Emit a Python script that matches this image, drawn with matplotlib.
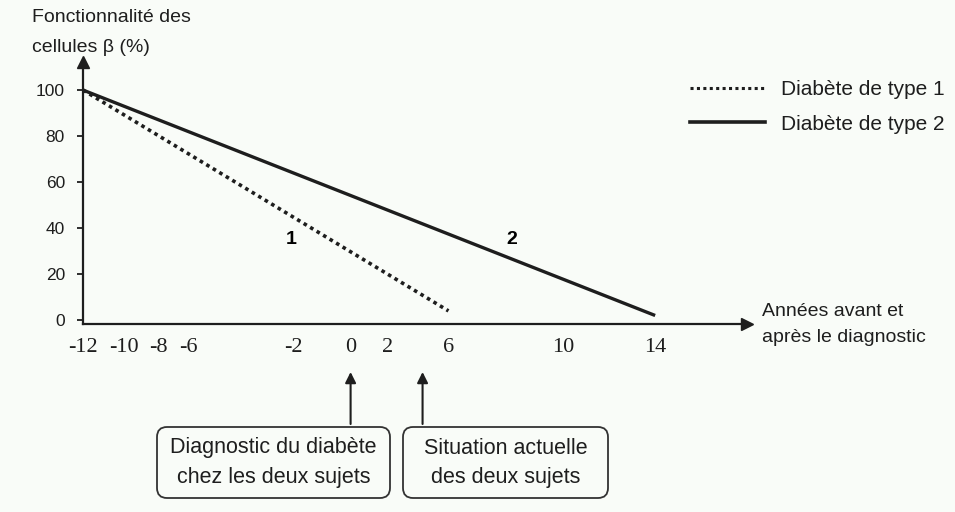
import numpy as np
import matplotlib.pyplot as plt
from matplotlib.patches import FancyBboxPatch
from matplotlib.lines import Line2D

# years shown under the x axis, and where each label sits on the drawing (px)
years = [-12, -10, -8, -6, -2, 0, 2, 6, 10, 14]
year_px = [82, 123, 157, 188, 293, 350, 387, 448, 563, 655]

# beta-cell function (%) - straight decline from -12 years
type1_x = [-12, 6]
type1_y = [100, 4]
type2_x = [-12, 14]
type2_y = [100, 2]
y_ticks = [0, 20, 40, 60, 80, 100]

diag_year = 0      # diagnostic
now_year = 4.3     # situation actuelle

W, H = 955, 512


def fx(px):
    return px / W


def fy(py):
    return 1 - py / H


def fwd(x):
    # hand drawn axis: piecewise linear between the labelled years
    x = np.asarray(x, dtype=float)
    out = np.interp(x, years, year_px)
    s0 = (year_px[1] - year_px[0]) / (years[1] - years[0])
    s1 = (year_px[-1] - year_px[-2]) / (years[-1] - years[-2])
    out = np.where(x < years[0], year_px[0] + (x - years[0]) * s0, out)
    out = np.where(x > years[-1], year_px[-1] + (x - years[-1]) * s1, out)
    return out


def inv(p):
    p = np.asarray(p, dtype=float)
    out = np.interp(p, year_px, years)
    s0 = (years[1] - years[0]) / (year_px[1] - year_px[0])
    s1 = (years[-1] - years[-2]) / (year_px[-1] - year_px[-2])
    out = np.where(p < year_px[0], years[0] + (p - year_px[0]) * s0, out)
    out = np.where(p > year_px[-1], years[-1] + (p - year_px[-1]) * s1, out)
    return out


bg = '#f9fcf8'
ink = '#1e1e1e'
plt.rcParams['font.family'] = ['Liberation Sans', 'DejaVu Sans']

fig = plt.figure(figsize=(9.55, 5.12), dpi=100, facecolor=bg)
ax = fig.add_axes([fx(83), fy(324), fx(747) - fx(83), fy(62) - fy(324)])
ax.set_facecolor(bg)
ax.set_xscale('function', functions=(fwd, inv))
ax.set_xlim(-12, float(inv(747)))
ax.set_ylim(-1.7, 112.2)

# the two curves
ax.plot(type1_x, type1_y, color=ink, lw=2.6, linestyle=(0, (1, 1.1)),
        clip_on=False, label='Diabète de type 1')
ax.plot(type2_x, type2_y, color=ink, lw=2.4, solid_capstyle='butt',
        clip_on=False, label='Diabète de type 2')

# axes with arrows
for side in ['top', 'right']:
    ax.spines[side].set_visible(False)
for side in ['left', 'bottom']:
    ax.spines[side].set_linewidth(1.6)
    ax.spines[side].set_color(ink)
ax.plot(1, 0, '>', color=ink, ms=9, transform=ax.transAxes, clip_on=False)
ax.plot(0, 1, '^', color=ink, ms=9, transform=ax.transAxes, clip_on=False)

ax.set_yticks(y_ticks)
ax.set_yticklabels([str(v) for v in y_ticks])
ax.tick_params(axis='y', direction='out', length=4, width=1.3, pad=9,
               labelsize=12.5, colors=ink)
ax.set_xticks(years)
ax.set_xticklabels([str(v) for v in years], family='Liberation Serif',
                   fontsize=16)
ax.tick_params(axis='x', length=0, pad=10, colors=ink)
ax.minorticks_off()

# curve numbers
ax.text(-2.1, 35, '1', fontsize=14, fontweight='bold', ha='center', va='center')
ax.text(8.2, 35, '2', fontsize=14, fontweight='bold', ha='center', va='center')

# axis titles
fig.text(fx(32), fy(18), 'Fonctionnalité des', fontsize=14, va='center', color=ink)
fig.text(fx(32), fy(47), 'cellules β (%)', fontsize=14, va='center', color=ink)
fig.text(fx(762), fy(312), 'Années avant et', fontsize=14, va='center', color=ink)
fig.text(fx(762), fy(337), 'après le diagnostic', fontsize=14, va='center', color=ink)

# legend
handles = [Line2D([], [], color=ink, lw=2.2, linestyle=(0, (1, 1.1))),
           Line2D([], [], color=ink, lw=2.6)]
fig.legend(handles, ['Diabète de type 1', 'Diabète de type 2'],
           loc='upper left', bbox_to_anchor=(fx(690), fy(80)),
           frameon=False, fontsize=15, handlelength=3.6, handletextpad=0.75,
           labelspacing=0.75, borderpad=0, borderaxespad=0,
           labelcolor=ink)

# boxes under the axis
boxes = [(157, 390, ['Diagnostic du diabète', 'chez les deux sujets']),
         (403, 608, ['Situation actuelle', 'des deux sujets'])]
for x0, x1, lines in boxes:
    patch = FancyBboxPatch((x0 / 100, (H - 498) / 100), (x1 - x0) / 100, 0.71,
                           boxstyle='round,pad=0,rounding_size=0.1',
                           transform=fig.dpi_scale_trans, fill=False,
                           ec='#333333', lw=1.3)
    fig.add_artist(patch)
    xc = fx((x0 + x1) / 2)
    fig.text(xc, fy(448), lines[0], fontsize=15.5, ha='center', va='center', color=ink)
    fig.text(xc, fy(478), lines[1], fontsize=15.5, ha='center', va='center', color=ink)

for yr in [diag_year, now_year]:
    ax.annotate('', xy=(yr, fy(372)), xycoords=('data', 'figure fraction'),
                xytext=(yr, fy(424)), textcoords=('data', 'figure fraction'),
                arrowprops=dict(arrowstyle='-|>', lw=1.5, color=ink,
                                mutation_scale=16, shrinkA=0, shrinkB=0),
                annotation_clip=False)

fig.savefig('out.png', dpi=100, facecolor=bg)
